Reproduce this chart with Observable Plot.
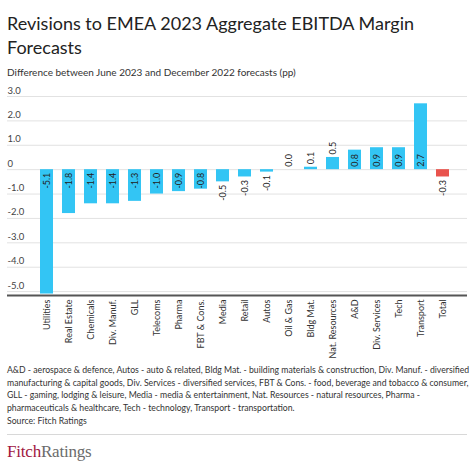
<!DOCTYPE html>
<html>
<head>
<meta charset="utf-8">
<script src="https://cdn.jsdelivr.net/npm/d3@7"></script>
<script src="https://cdn.jsdelivr.net/npm/@observablehq/plot@0.6"></script>
<style>
  html, body { margin: 0; padding: 0; background: #fff; }
  body { width: 474px; height: 474px; overflow: hidden; font-family: Lato, "Open Sans", sans-serif; position: relative; }
  #title { position: absolute; left: 7px; top: 11px; font-size: 18px; line-height: 24px; color: #222; }
  #subtitle { position: absolute; left: 7px; top: 65px; font-size: 10px; line-height: 14px; color: #333; white-space: nowrap; }
  #chart { position: absolute; left: 0; top: 79px; }
  #notes { position: absolute; left: 7px; top: 364px; font-size: 9.4px; line-height: 12.7px; color: #333; white-space: nowrap; }
  #sep { position: absolute; left: 7px; top: 434px; width: 460px; height: 1px; background: #d8d8d8; }
  #logo { position: absolute; left: 7px; top: 441px; font-family: "Liberation Serif", "DejaVu Serif", serif; font-size: 17px; line-height: 22px; letter-spacing: -0.2px; }
  #logo .f { color: #a0173f; }
  #logo .r { color: #6b6b6b; }
</style>
</head>
<body>
<div id="title">Revisions to EMEA 2023 Aggregate EBITDA Margin<br>Forecasts</div>
<div id="subtitle">Difference between June 2023 and December 2022 forecasts (pp)</div>
<div id="chart"></div>
<div id="notes">A&amp;D - aerospace &amp; defence, Autos - auto &amp; related, Bldg Mat. - building materials &amp; construction, Div. Manuf. - diversified<br>manufacturing &amp; capital goods, Div. Services - diversified services, FBT &amp; Cons. - food, beverage and tobacco &amp; consumer,<br>GLL - gaming, lodging &amp; leisure, Media - media &amp; entertainment, Nat. Resources - natural resources, Pharma -<br>pharmaceuticals &amp; healthcare, Tech - technology, Transport - transportation.<br>Source: Fitch Ratings</div>
<div id="sep"></div>
<div id="logo"><span class="f">Fitch</span><span class="r">Ratings</span></div>
<script>
const categories = ["Utilities","Real Estate","Chemicals","Div. Manuf.","GLL","Telecoms","Pharma","FBT & Cons.","Media","Retail","Autos","Oil & Gas","Bldg Mat.","Nat. Resources","A&D","Div. Services","Tech","Transport","Total"];
const values = [-5.1,-1.8,-1.4,-1.4,-1.3,-1.0,-0.9,-0.8,-0.5,-0.3,-0.1,0.0,0.1,0.5,0.8,0.9,0.9,2.7,-0.3];
const yTicks = [3,2,1,0,-1,-2,-3,-4,-5];

const data = categories.map((c, i) => ({category: c, value: values[i]}));
const inside = d => Math.abs(d.value) >= 0.8;
const labelY = d => inside(d) ? 0 : d.value;
const fmt = v => v.toFixed(1);
const negs = data.filter(d => d.value < 0);
const poss = data.filter(d => d.value >= 0);
const yMin = -5.16;

const chart = Plot.plot({
  width: 474,
  height: 284,
  marginTop: 17,
  marginBottom: 68,
  marginLeft: 26,
  marginRight: 10.5,
  style: {fontFamily: "Lato, sans-serif", background: "transparent", overflow: "visible"},
  x: {domain: categories, padding: 0.4, label: null},
  y: {domain: [yMin, 3], label: null, axis: null},
  marks: [
    Plot.ruleY(yTicks, {stroke: "#e2e2e2", strokeWidth: 1, insetLeft: -19, insetRight: -3.5}),
    Plot.text(yTicks, {y: d => d, text: d => d === 0 ? "0" : d.toFixed(1), frameAnchor: "left", textAnchor: "start", dx: -19, dy: -6, fontSize: 9.5, fill: "#444"}),
    Plot.barY(data, {x: "category", y: "value", fill: d => d.category === "Total" ? "#e9534d" : "#33c5f4"}),
    Plot.text(negs, {x: "category", y: labelY, text: d => fmt(d.value), rotate: -90, textAnchor: "end", dy: 3, fontSize: 9, fill: "#222"}),
    Plot.text(poss, {x: "category", y: labelY, text: d => fmt(d.value), rotate: -90, textAnchor: "start", dy: -3, fontSize: 9, fill: "#222"}),
    Plot.ruleY([yMin], {stroke: "#555", strokeWidth: 2, insetLeft: -19, insetRight: -3.5}),
    Plot.axisX({tickSize: 0, tickRotate: -90, tickPadding: 4, fontSize: 9, color: "#333", label: null})
  ]
});
document.getElementById("chart").appendChild(chart);

// fit the notes lines to the reference width (~462px)
const notes = document.getElementById("notes");
const w = notes.getBoundingClientRect().width;
if (w > 462) notes.style.fontSize = (9.4 * 462 / w).toFixed(2) + "px";
</script>
</body>
</html>
